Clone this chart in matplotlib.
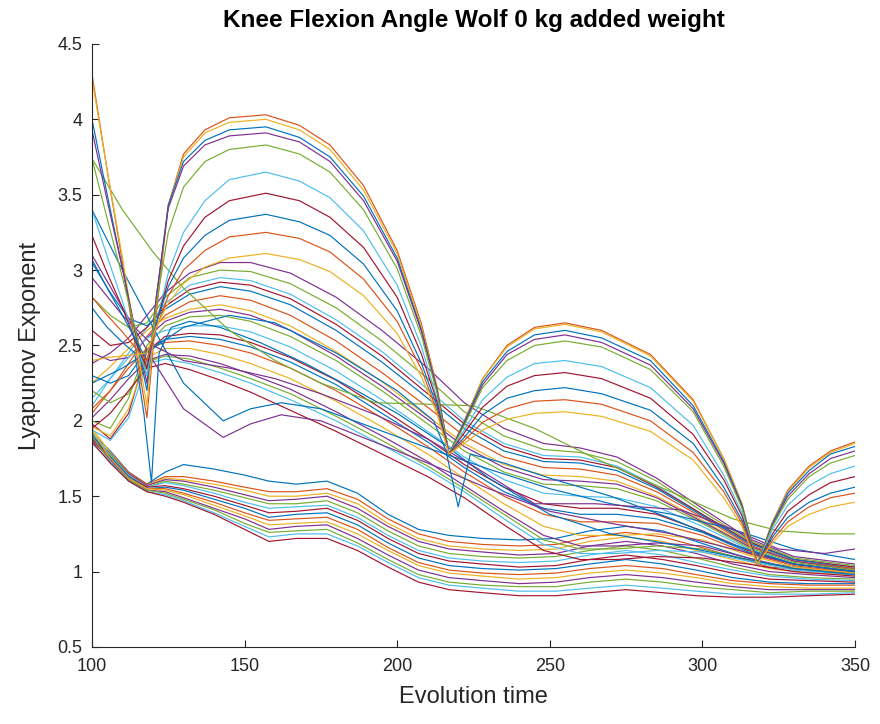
import matplotlib
matplotlib.use("Agg")
import matplotlib.pyplot as plt

plt.rcParams['font.family'] = ['Liberation Sans', 'DejaVu Sans']

# MATLAB default line colours
MATLAB_COLORS = ['#0072BD', '#D95319', '#EDB120', '#7E2F8E',
                 '#77AC30', '#4DBEEE', '#A2142F']

# ---- big arch curves ----
ARCH_X = [100, 105, 110, 114, 118, 121, 125, 130, 137, 145, 157, 168, 178, 189,
          200, 208, 213, 217, 222, 228, 236, 245, 255, 267, 283, 297, 307, 313,
          318, 323, 328, 335, 342, 350]
ARCH_LINES = [
    [4.30, 3.66, 3.05, 2.52, 2.02, 2.70, 3.43, 3.77, 3.93, 4.01, 4.03, 3.96, 3.83, 3.56, 3.13, 2.64, 2.23, 1.78, 2.00, 2.28, 2.50, 2.62, 2.65, 2.60, 2.44, 2.14, 1.75, 1.45, 1.05, 1.33, 1.54, 1.70, 1.80, 1.86],
    [4.27, 3.66, 3.08, 2.58, 2.10, 2.75, 3.43, 3.75, 3.91, 3.98, 4.00, 3.93, 3.80, 3.53, 3.11, 2.62, 2.22, 1.78, 1.99, 2.28, 2.49, 2.61, 2.64, 2.59, 2.43, 2.13, 1.75, 1.45, 1.05, 1.33, 1.53, 1.69, 1.79, 1.85],
    [4.00, 3.50, 3.01, 2.60, 2.20, 2.80, 3.43, 3.72, 3.86, 3.93, 3.95, 3.88, 3.75, 3.49, 3.08, 2.60, 2.21, 1.78, 1.99, 2.26, 2.46, 2.57, 2.60, 2.55, 2.40, 2.10, 1.73, 1.44, 1.05, 1.32, 1.52, 1.67, 1.78, 1.83],
    [3.93, 3.46, 3.01, 2.62, 2.25, 2.81, 3.41, 3.69, 3.83, 3.89, 3.91, 3.85, 3.72, 3.46, 3.06, 2.59, 2.21, 1.78, 1.98, 2.24, 2.44, 2.54, 2.57, 2.52, 2.37, 2.08, 1.72, 1.43, 1.05, 1.31, 1.50, 1.65, 1.75, 1.80],
    [3.74, 3.34, 2.95, 2.62, 2.30, 2.76, 3.25, 3.55, 3.72, 3.80, 3.83, 3.77, 3.65, 3.40, 3.01, 2.56, 2.19, 1.78, 1.97, 2.22, 2.40, 2.50, 2.53, 2.49, 2.34, 2.06, 1.70, 1.42, 1.05, 1.30, 1.48, 1.63, 1.72, 1.77],
    [3.40, 3.09, 2.79, 2.54, 2.30, 2.64, 2.98, 3.25, 3.46, 3.60, 3.65, 3.59, 3.48, 3.26, 2.90, 2.49, 2.15, 1.78, 1.94, 2.14, 2.29, 2.38, 2.40, 2.36, 2.22, 1.97, 1.64, 1.39, 1.05, 1.28, 1.44, 1.57, 1.65, 1.70],
    [3.23, 2.98, 2.75, 2.54, 2.35, 2.64, 2.93, 3.16, 3.35, 3.46, 3.51, 3.46, 3.35, 3.15, 2.82, 2.44, 2.13, 1.78, 1.92, 2.09, 2.23, 2.30, 2.32, 2.28, 2.15, 1.91, 1.61, 1.37, 1.05, 1.25, 1.40, 1.51, 1.59, 1.63],
    [3.07, 2.88, 2.70, 2.55, 2.40, 2.64, 2.89, 3.08, 3.23, 3.33, 3.37, 3.32, 3.23, 3.04, 2.73, 2.38, 2.10, 1.78, 1.89, 2.04, 2.15, 2.20, 2.22, 2.18, 2.07, 1.85, 1.56, 1.34, 1.05, 1.23, 1.36, 1.46, 1.52, 1.56],
    [2.82, 2.70, 2.59, 2.49, 2.40, 2.61, 2.83, 3.00, 3.13, 3.22, 3.25, 3.21, 3.12, 2.94, 2.66, 2.34, 2.07, 1.78, 1.87, 1.99, 2.08, 2.13, 2.14, 2.11, 2.00, 1.79, 1.53, 1.32, 1.05, 1.21, 1.33, 1.43, 1.49, 1.52],
    [2.40, 2.42, 2.43, 2.44, 2.45, 2.62, 2.78, 2.91, 3.02, 3.08, 3.11, 3.07, 2.99, 2.83, 2.58, 2.29, 2.05, 1.78, 1.85, 1.94, 2.01, 2.05, 2.06, 2.03, 1.93, 1.74, 1.49, 1.30, 1.05, 1.19, 1.30, 1.38, 1.43, 1.46],
]
ARCH_COLOR_IDX = [1, 2, 0, 3, 4, 5, 6, 0, 1, 2]

# ---- middle band ----
MID_X = [100, 106, 112, 118, 124, 132, 142, 152, 165, 180, 195, 210, 222, 235,
         248, 260, 272, 285, 300, 315, 330, 350]
MID_LINES = [
    [2.38, 2.45, 2.55, 2.70, 2.85, 2.98, 3.05, 3.05, 2.98, 2.82, 2.60, 2.35, 2.12, 1.95, 1.85, 1.82, 1.76, 1.62, 1.42, 1.22, 1.10, 1.05],
    [2.82, 2.70, 2.62, 2.65, 2.82, 2.95, 3.00, 2.99, 2.91, 2.75, 2.53, 2.28, 2.06, 1.90, 1.81, 1.79, 1.73, 1.60, 1.40, 1.21, 1.09, 1.04],
    [2.10, 2.28, 2.45, 2.62, 2.78, 2.90, 2.95, 2.93, 2.84, 2.67, 2.46, 2.21, 2.00, 1.85, 1.77, 1.76, 1.70, 1.57, 1.38, 1.20, 1.08, 1.03],
    [2.60, 2.50, 2.52, 2.62, 2.76, 2.87, 2.92, 2.90, 2.81, 2.64, 2.43, 2.18, 1.98, 1.83, 1.75, 1.74, 1.69, 1.56, 1.38, 1.20, 1.08, 1.03],
    [3.05, 2.85, 2.68, 2.63, 2.74, 2.84, 2.89, 2.86, 2.77, 2.60, 2.39, 2.15, 1.95, 1.80, 1.73, 1.72, 1.67, 1.55, 1.37, 1.19, 1.08, 1.02],
    [2.05, 2.20, 2.38, 2.56, 2.70, 2.79, 2.83, 2.80, 2.70, 2.53, 2.32, 2.09, 1.90, 1.76, 1.69, 1.68, 1.64, 1.53, 1.36, 1.18, 1.07, 1.02],
    [2.25, 2.36, 2.48, 2.60, 2.68, 2.74, 2.77, 2.73, 2.63, 2.46, 2.26, 2.03, 1.85, 1.71, 1.64, 1.63, 1.60, 1.50, 1.34, 1.17, 1.07, 1.01],
    [2.45, 2.40, 2.42, 2.55, 2.66, 2.72, 2.74, 2.70, 2.60, 2.43, 2.23, 2.01, 1.83, 1.69, 1.61, 1.60, 1.58, 1.49, 1.33, 1.17, 1.07, 1.01],
    [2.00, 1.95, 2.15, 2.50, 2.63, 2.69, 2.70, 2.66, 2.56, 2.40, 2.20, 1.98, 1.80, 1.66, 1.58, 1.57, 1.55, 1.47, 1.32, 1.16, 1.06, 1.01],
    [2.15, 2.28, 2.42, 2.55, 2.60, 2.63, 2.63, 2.59, 2.49, 2.33, 2.14, 1.93, 1.76, 1.61, 1.52, 1.50, 1.49, 1.43, 1.30, 1.15, 1.05, 1.00],
    [1.98, 1.88, 2.05, 2.46, 2.56, 2.58, 2.57, 2.52, 2.42, 2.27, 2.08, 1.88, 1.71, 1.56, 1.45, 1.42, 1.42, 1.38, 1.27, 1.14, 1.05, 1.00],
    [2.30, 2.25, 2.30, 2.47, 2.54, 2.56, 2.54, 2.49, 2.39, 2.24, 2.05, 1.86, 1.69, 1.53, 1.42, 1.38, 1.38, 1.35, 1.26, 1.13, 1.05, 1.00],
    [2.08, 2.20, 2.35, 2.48, 2.52, 2.53, 2.50, 2.45, 2.35, 2.20, 2.02, 1.83, 1.66, 1.50, 1.38, 1.33, 1.33, 1.32, 1.24, 1.12, 1.04, 0.99],
    [1.96, 1.90, 2.08, 2.42, 2.48, 2.48, 2.44, 2.38, 2.28, 2.13, 1.96, 1.78, 1.62, 1.45, 1.30, 1.24, 1.24, 1.25, 1.21, 1.11, 1.03, 0.99],
    [2.02, 2.14, 2.28, 2.40, 2.44, 2.43, 2.38, 2.31, 2.21, 2.06, 1.90, 1.73, 1.57, 1.40, 1.24, 1.17, 1.17, 1.19, 1.17, 1.09, 1.02, 0.98],
    [2.20, 2.12, 2.18, 2.39, 2.43, 2.41, 2.35, 2.28, 2.18, 2.03, 1.87, 1.70, 1.55, 1.38, 1.21, 1.15, 1.15, 1.17, 1.15, 1.08, 1.02, 0.98],
    [1.94, 1.87, 2.02, 2.38, 2.41, 2.38, 2.32, 2.25, 2.14, 2.00, 1.84, 1.68, 1.53, 1.35, 1.18, 1.12, 1.12, 1.14, 1.13, 1.07, 1.01, 0.98],
    [1.95, 2.05, 2.20, 2.35, 2.38, 2.34, 2.27, 2.19, 2.07, 1.93, 1.78, 1.63, 1.49, 1.31, 1.14, 1.08, 1.08, 1.10, 1.09, 1.05, 1.00, 0.97],
]

# ---- odd single curves ----
V1_X = [100, 105, 110, 114, 117, 119.5, 122, 126, 132, 142, 155, 170, 185, 200, 215, 230, 250, 270, 290, 310, 330, 350]
V1_Y = [2.75, 2.62, 2.52, 2.45, 2.05, 1.59, 2.45, 2.62, 2.66, 2.62, 2.52, 2.38, 2.22, 2.05, 1.85, 1.62, 1.38, 1.25, 1.18, 1.10, 1.02, 0.98]
W_X = [100, 110, 120, 130, 143, 152, 162, 175, 190, 210, 230, 250, 270, 290, 310, 330, 350]
W1_Y = [3.10, 2.75, 2.40, 2.08, 1.89, 1.98, 2.04, 2.00, 1.88, 1.72, 1.55, 1.40, 1.32, 1.25, 1.15, 1.05, 1.00]
W2_Y = [3.40, 3.00, 2.62, 2.25, 2.00, 2.08, 2.12, 2.08, 1.97, 1.82, 1.68, 1.55, 1.45, 1.38, 1.28, 1.15, 1.08]
G_X = [100, 110, 120, 130, 145, 160, 175, 193, 210, 225, 245, 265, 293, 310, 325, 340, 350]
G1_Y = [3.74, 3.40, 3.12, 2.88, 2.60, 2.40, 2.25, 2.12, 2.11, 2.10, 1.95, 1.75, 1.50, 1.35, 1.27, 1.25, 1.25]
G2_Y = [2.95, 2.70, 2.50, 2.40, 2.35, 2.28, 2.18, 2.04, 1.88, 1.70, 1.45, 1.45, 1.41, 1.28, 1.15, 1.12, 1.15]
V2_X = [100, 110, 120, 130, 145, 160, 180, 200, 212, 216, 220, 224, 235, 250, 270, 290, 310, 330, 350]
V2_Y = [2.25, 2.35, 2.48, 2.62, 2.70, 2.65, 2.45, 2.20, 2.00, 1.80, 1.43, 1.78, 1.72, 1.62, 1.50, 1.35, 1.18, 1.05, 1.00]

# ---- low band ----
BOT_X = [100, 106, 112, 118, 124, 130, 140, 150, 158, 167, 177, 187, 197, 207,
         217, 228, 240, 252, 263, 275, 287, 298, 310, 322, 335, 350]
BOT_LINES = [
    [1.92, 1.80, 1.66, 1.58, 1.66, 1.71, 1.68, 1.64, 1.60, 1.58, 1.60, 1.52, 1.38, 1.28, 1.24, 1.22, 1.21, 1.22, 1.27, 1.30, 1.27, 1.20, 1.12, 1.05, 1.02, 1.00],
    [1.88, 1.79, 1.66, 1.58, 1.63, 1.63, 1.60, 1.56, 1.53, 1.53, 1.55, 1.48, 1.35, 1.25, 1.20, 1.18, 1.17, 1.18, 1.23, 1.26, 1.23, 1.17, 1.10, 1.03, 1.01, 0.99],
    [1.95, 1.79, 1.65, 1.57, 1.62, 1.61, 1.58, 1.54, 1.50, 1.50, 1.52, 1.45, 1.32, 1.22, 1.17, 1.15, 1.14, 1.15, 1.20, 1.23, 1.20, 1.14, 1.08, 1.02, 0.99, 0.98],
    [1.90, 1.78, 1.65, 1.57, 1.61, 1.60, 1.56, 1.51, 1.47, 1.48, 1.50, 1.42, 1.30, 1.20, 1.15, 1.13, 1.11, 1.12, 1.17, 1.20, 1.17, 1.12, 1.05, 1.00, 0.98, 0.96],
    [1.86, 1.78, 1.64, 1.56, 1.60, 1.58, 1.54, 1.49, 1.45, 1.45, 1.47, 1.39, 1.27, 1.17, 1.12, 1.10, 1.09, 1.10, 1.14, 1.17, 1.14, 1.09, 1.03, 0.98, 0.96, 0.95],
    [1.93, 1.77, 1.64, 1.56, 1.59, 1.57, 1.52, 1.46, 1.42, 1.43, 1.44, 1.36, 1.24, 1.14, 1.09, 1.07, 1.06, 1.07, 1.11, 1.14, 1.11, 1.06, 1.01, 0.97, 0.95, 0.94],
    [1.89, 1.76, 1.63, 1.56, 1.57, 1.55, 1.50, 1.44, 1.39, 1.40, 1.42, 1.34, 1.22, 1.12, 1.07, 1.05, 1.03, 1.04, 1.08, 1.11, 1.08, 1.04, 0.99, 0.95, 0.94, 0.93],
    [1.91, 1.76, 1.63, 1.55, 1.56, 1.54, 1.48, 1.42, 1.36, 1.38, 1.39, 1.31, 1.19, 1.09, 1.04, 1.02, 1.01, 1.02, 1.05, 1.08, 1.05, 1.01, 0.96, 0.93, 0.92, 0.92],
    [1.87, 1.75, 1.62, 1.55, 1.55, 1.52, 1.46, 1.39, 1.34, 1.35, 1.36, 1.28, 1.16, 1.06, 1.01, 0.99, 0.98, 0.99, 1.02, 1.04, 1.02, 0.98, 0.94, 0.92, 0.91, 0.91],
    [1.94, 1.75, 1.62, 1.55, 1.54, 1.51, 1.44, 1.37, 1.31, 1.32, 1.33, 1.25, 1.14, 1.04, 0.99, 0.97, 0.95, 0.96, 0.99, 1.01, 0.99, 0.96, 0.92, 0.90, 0.89, 0.89],
    [1.88, 1.74, 1.61, 1.54, 1.53, 1.49, 1.42, 1.35, 1.28, 1.30, 1.31, 1.22, 1.11, 1.01, 0.96, 0.94, 0.92, 0.93, 0.96, 0.98, 0.96, 0.93, 0.90, 0.88, 0.88, 0.88],
    [1.90, 1.73, 1.61, 1.54, 1.52, 1.48, 1.41, 1.32, 1.26, 1.27, 1.28, 1.19, 1.08, 0.98, 0.93, 0.91, 0.90, 0.90, 0.93, 0.95, 0.93, 0.90, 0.88, 0.86, 0.87, 0.87],
    [1.85, 1.73, 1.60, 1.53, 1.51, 1.47, 1.39, 1.30, 1.23, 1.25, 1.25, 1.17, 1.06, 0.96, 0.91, 0.89, 0.87, 0.87, 0.89, 0.91, 0.89, 0.87, 0.85, 0.85, 0.85, 0.86],
    [1.86, 1.72, 1.60, 1.53, 1.50, 1.46, 1.38, 1.28, 1.20, 1.22, 1.22, 1.14, 1.03, 0.93, 0.88, 0.86, 0.84, 0.84, 0.86, 0.88, 0.86, 0.84, 0.83, 0.83, 0.84, 0.85],
]

X_TICKS = [100, 150, 200, 250, 300, 350]
Y_TICKS = [0.5, 1, 1.5, 2, 2.5, 3, 3.5, 4, 4.5]
Y_TICK_LABELS = ['0.5', '1', '1.5', '2', '2.5', '3', '3.5', '4', '4.5']

fig = plt.figure(figsize=(8.8, 7.24), dpi=100)
ax = fig.add_axes([0.1045, 0.1064, 0.867, 0.8329])
lw = 0.85

for i, y in enumerate(BOT_LINES):
    ax.plot(BOT_X, y, color=MATLAB_COLORS[i % 7], lw=lw)
for i, y in enumerate(MID_LINES):
    ax.plot(MID_X, y, color=MATLAB_COLORS[(i + 3) % 7], lw=lw)
ax.plot(V1_X, V1_Y, color=MATLAB_COLORS[0], lw=lw)
ax.plot(W_X, W1_Y, color=MATLAB_COLORS[3], lw=lw)
ax.plot(W_X, W2_Y, color=MATLAB_COLORS[0], lw=lw)
ax.plot(G_X, G1_Y, color=MATLAB_COLORS[4], lw=lw)
ax.plot(G_X, G2_Y, color=MATLAB_COLORS[3], lw=lw)
ax.plot(V2_X, V2_Y, color=MATLAB_COLORS[0], lw=lw)
for i, y in enumerate(ARCH_LINES):
    ax.plot(ARCH_X, y, color=MATLAB_COLORS[ARCH_COLOR_IDX[i]], lw=lw)

ax.set_xlim(100, 350)
ax.set_ylim(0.5, 4.5)
ax.set_xticks(X_TICKS)
ax.set_yticks(Y_TICKS)
ax.set_yticklabels(Y_TICK_LABELS)
ax.tick_params(direction='in', length=5, width=0.8, labelsize=13,
               colors='#262626')
ax.tick_params(axis='x', pad=8)
ax.tick_params(axis='y', pad=7)
for s in ['top', 'right']:
    ax.spines[s].set_visible(False)
for s in ['left', 'bottom']:
    ax.spines[s].set_color('#262626')
    ax.spines[s].set_linewidth(0.8)

ax.set_xlabel('Evolution time', fontsize=17, color='#262626', labelpad=8)
ax.set_ylabel('Lyapunov Exponent', fontsize=17, color='#262626', labelpad=12)
ax.set_title('Knee Flexion Angle Wolf 0 kg added weight', fontsize=17.5,
             fontweight='bold', pad=12)

fig.savefig('out.png', dpi=100)
